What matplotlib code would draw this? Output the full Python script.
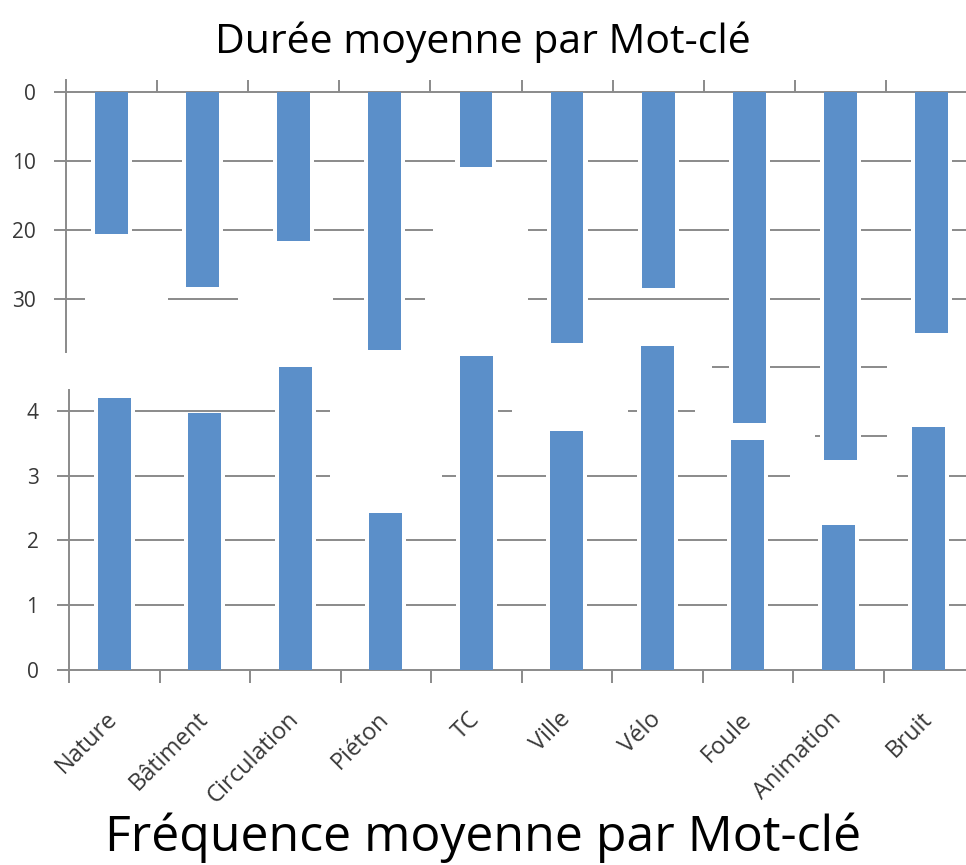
import matplotlib
matplotlib.use("Agg")
import matplotlib.pyplot as plt
import numpy as np

# data
categories = ["Nature", "Bâtiment", "Circulation", "Piéton", "TC",
              "Ville", "Vélo", "Foule", "Animation", "Bruit"]
duree = [20.6, 28.3, 21.6, 37.4, 10.8, 36.4, 28.5, 48.1, 53.4, 35.0]
frequence = [4.20, 3.97, 4.67, 2.43, 4.84, 3.68, 5.00, 3.55, 2.24, 3.75]
duree_ticks = [0, 10, 20, 30]
freq_ticks = [0, 1, 2, 3, 4]

BLUE = "#5b8fc9"
GRID = "#8a8a8a"
TXT = "#383838"
BAR_W = 0.36
HALO = 0.09

plt.rcParams["font.family"] = ["Open Sans", "DejaVu Sans"]

fig = plt.figure(figsize=(9.66, 8.65), dpi=100)
x = np.arange(len(categories))

# --- lower chart: fréquence ---
ax_b = fig.add_axes([69 / 966, 195 / 865, 905 / 966, 280 / 865])
ax_b.set_facecolor("none")
ax_b.set_xlim(-0.5, len(categories) - 0.5)
ax_b.set_ylim(0, 4.32)

# gridlines (some parts hidden in the original composite)
grid_b = [(1, -0.5, 9.5), (2, -0.5, 9.5),
          (3, -0.5, 2.38), (3, 3.62, 7.47), (3, 8.65, 9.5),
          (4, -0.5, 2.38), (4, 3.78, 3.88), (4, 4.24, 4.40), (4, 5.68, 6.42)]
for y, x0, x1 in grid_b:
    ax_b.hlines(y, x0, x1, colors=GRID, lw=1.4, zorder=1, clip_on=False)

ax_b.bar(x, frequence, width=BAR_W + HALO, color="white", zorder=2, clip_on=False)
ax_b.bar(x, frequence, width=BAR_W, color=BLUE, zorder=3, clip_on=False)

for s in ["top", "right"]:
    ax_b.spines[s].set_visible(False)
for s in ["left", "bottom"]:
    ax_b.spines[s].set_color(GRID)
    ax_b.spines[s].set_linewidth(1.4)

ax_b.set_yticks(freq_ticks)
ax_b.tick_params(axis="y", length=9, width=1.4, color=GRID, labelsize=15,
                 labelcolor=TXT, pad=13)
ax_b.set_xticks(np.arange(-0.5, len(categories), 1.0))
ax_b.set_xticklabels([])
ax_b.tick_params(axis="x", which="major", length=9, width=1.4, color=GRID)
ax_b.set_xticks(x, minor=True)
ax_b.set_xticklabels(categories, minor=True, rotation=45, ha="right",
                     va="center", rotation_mode="anchor")
ax_b.tick_params(axis="x", which="minor", length=0, labelsize=17,
                 labelcolor=TXT, pad=33)

# --- upper chart: durée, drawn upside down ---
ax_t = fig.add_axes([66 / 966, 513 / 865, 911 / 966, 272 / 865], zorder=2)
ax_t.set_facecolor("none")
ax_t.set_xlim(-0.5, len(categories) - 0.5)
ax_t.set_ylim(37.75, -1.79)

grid_t = [(10, -0.5, 9.5),
          (20, -0.5, 3.53), (20, 4.57, 9.5),
          (30, -0.5, -0.29), (30, 0.62, 1.39), (30, 2.43, 3.44), (30, 4.57, 9.5),
          (40, 6.59, 8.51), (50, 7.72, 8.51)]
for y, x0, x1 in grid_t:
    ax_t.hlines(y, x0, x1, colors=GRID, lw=1.4, zorder=1, clip_on=False)

ax_t.bar(x, duree, width=BAR_W + HALO, color="white", zorder=2, clip_on=False)
ax_t.bar(x, duree, width=BAR_W, color=BLUE, zorder=3, clip_on=False)

for s in ["bottom", "right"]:
    ax_t.spines[s].set_visible(False)
ax_t.spines["top"].set_position(("data", 0))
for s in ["left", "top"]:
    ax_t.spines[s].set_color(GRID)
    ax_t.spines[s].set_linewidth(1.4)

ax_t.set_yticks(duree_ticks)
ax_t.tick_params(axis="y", length=9, width=1.4, color=GRID, labelsize=15,
                 labelcolor=TXT, pad=13)
ax_t.xaxis.set_ticks_position("top")
ax_t.set_xticks(np.arange(0.5, len(categories), 1.0))
ax_t.set_xticklabels([])
ax_t.tick_params(axis="x", length=9, width=1.4, color=GRID)

fig.text(0.5, 1 - 42 / 865, "Durée moyenne par Mot-clé", ha="center",
         va="center", fontsize=29.5, color="black")
fig.text(0.5, 1 - 838 / 865, "Fréquence moyenne par Mot-clé", ha="center",
         va="center", fontsize=36, color="black")

fig.savefig("out.png", dpi=100, facecolor="white")
